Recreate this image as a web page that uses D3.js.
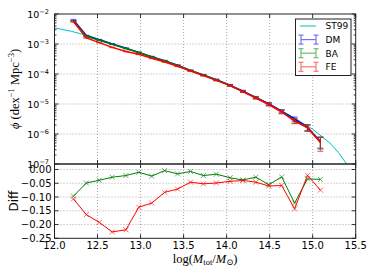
<!DOCTYPE html>
<html>
<head>
<meta charset="utf-8">
<script src="https://cdn.jsdelivr.net/npm/d3@7"></script>
<style>
  body { margin: 0; background: #fff; }
  svg { display: block; }
</style>
</head>
<body>
<div id="chart"></div>
<script>
// halo mass bins, log(M_tot/M_sun)
var massBins = [12.22, 12.37, 12.52, 12.67, 12.83, 12.98, 13.13, 13.28, 13.43, 13.58,
                13.73, 13.88, 14.04, 14.19, 14.34, 14.49, 14.64, 14.79, 14.94, 15.09];

// log10 phi
var logPhiDM = [-2.20, -2.72, -2.86, -3.00, -3.14, -3.28, -3.42, -3.56, -3.71, -3.88,
                -4.03, -4.19, -4.37, -4.57, -4.78, -4.99, -5.24, -5.50, -5.78, -6.25];
var logPhiBA = [-2.244, -2.742, -2.877, -3.012, -3.150, -3.284, -3.431, -3.562, -3.717, -3.883,
                -4.040, -4.197, -4.383, -4.587, -4.792, -5.015, -5.252, -5.557, -5.795, -6.266];
var logPhiFE = [-2.249, -2.798, -2.953, -3.112, -3.247, -3.344, -3.477, -3.598, -3.742, -3.901,
                -4.053, -4.212, -4.389, -4.588, -4.801, -5.017, -5.266, -5.567, -5.789, -6.284];

// relative errors (err/phi)
var relErrDM = [0.04, 0.02, 0.02, 0.02, 0.02, 0.02, 0.02, 0.025, 0.03, 0.03,
                0.035, 0.04, 0.05, 0.06, 0.07, 0.09, 0.12, 0.16, 0.22, 0.40];
var relErrBA = [0.04, 0.02, 0.02, 0.02, 0.02, 0.02, 0.02, 0.025, 0.03, 0.03,
                0.035, 0.04, 0.05, 0.06, 0.07, 0.09, 0.12, 0.17, 0.23, 0.42];
var relErrFE = [0.04, 0.02, 0.02, 0.02, 0.02, 0.02, 0.02, 0.025, 0.03, 0.03,
                0.035, 0.04, 0.05, 0.06, 0.08, 0.10, 0.13, 0.18, 0.25, 0.49];

// ST99 curve
var st99Mass   = [12.0, 12.2, 12.4, 12.6, 12.8, 13.0, 13.2, 13.4, 13.6, 13.8,
                  14.0, 14.2, 14.4, 14.6, 14.8, 15.0, 15.2, 15.3, 15.4];
var st99LogPhi = [-2.46, -2.58, -2.73, -2.92, -3.11, -3.31, -3.50, -3.70, -3.91, -4.12,
                  -4.34, -4.60, -4.87, -5.17, -5.49, -5.84, -6.30, -6.62, -7.02];

// bottom panel differences
var diffBA = [-0.097, -0.049, -0.039, -0.028, -0.022, -0.010, -0.024, -0.004, -0.016, -0.007,
              -0.022, -0.017, -0.030, -0.038, -0.028, -0.055, -0.027, -0.122, -0.034, -0.036];
var diffFE = [-0.107, -0.164, -0.192, -0.227, -0.219, -0.137, -0.122, -0.083, -0.071, -0.046,
              -0.052, -0.049, -0.043, -0.040, -0.046, -0.060, -0.058, -0.143, -0.021, -0.075];

var xTicks = [12.0, 12.5, 13.0, 13.5, 14.0, 14.5, 15.0, 15.5];
var topTickExps = [-2, -3, -4, -5, -6, -7];
var diffTicks = [0.00, -0.05, -0.10, -0.15, -0.20, -0.25];

var width = 374, height = 280;
var left = 54.5, right = 355.7;
var topY0 = 14, topY1 = 164, botY0 = 164, botY1 = 238.3;

var svg = d3.select("#chart").append("svg")
	.attr("width", width)
	.attr("height", height)
	.style("font-family", "'DejaVu Sans', sans-serif");

var x = d3.scaleLinear().domain([12, 15.5]).range([left, right]);
var yTop = d3.scaleLog().domain([1e-7, 1e-2]).range([topY1, topY0]);
var yBot = d3.scaleLinear().domain([-0.25, 0.02]).range([botY1, botY0]);

var defs = svg.append("defs");
defs.append("clipPath").attr("id", "clipTop")
	.append("rect").attr("x", left).attr("y", topY0).attr("width", right - left).attr("height", topY1 - topY0);
defs.append("clipPath").attr("id", "clipBot")
	.append("rect").attr("x", left).attr("y", botY0).attr("width", right - left).attr("height", botY1 - botY0);

//////////////////////// grids ////////////////////////
var grid = svg.append("g")
	.style("stroke", "#000")
	.style("stroke-width", 0.6)
	.style("stroke-dasharray", "1,2")
	.style("opacity", 0.55);

xTicks.slice(1, -1).forEach(function(t){
	grid.append("line").attr("x1", x(t)).attr("x2", x(t)).attr("y1", topY0).attr("y2", topY1);
	grid.append("line").attr("x1", x(t)).attr("x2", x(t)).attr("y1", botY0).attr("y2", botY1);
});
topTickExps.slice(1, -1).forEach(function(e){
	var yy = yTop(Math.pow(10, e));
	grid.append("line").attr("x1", left).attr("x2", right).attr("y1", yy).attr("y2", yy);
});
diffTicks.slice(0, -1).forEach(function(t){
	grid.append("line").attr("x1", left).attr("x2", right).attr("y1", yBot(t)).attr("y2", yBot(t));
});

//////////////////////// top panel ////////////////////////
var topG = svg.append("g").attr("clip-path", "url(#clipTop)");

var st99 = st99Mass.map(function(m, i){ return [m, Math.pow(10, st99LogPhi[i])]; });
topG.append("path")
	.datum(st99)
	.attr("d", d3.line().x(function(d){ return x(d[0]); }).y(function(d){ return yTop(d[1]); }))
	.style("fill", "none")
	.style("stroke", "#00bfbf")
	.style("stroke-width", 1);

var series = [
	{name: "DM", color: "#0000ff", logPhi: logPhiDM, err: relErrDM},
	{name: "BA", color: "#008000", logPhi: logPhiBA, err: relErrBA},
	{name: "FE", color: "#ff0000", logPhi: logPhiFE, err: relErrFE}
];

var lineTop = d3.line().x(function(d){ return x(d.m); }).y(function(d){ return yTop(d.phi); });

series.forEach(function(s){
	var pts = massBins.map(function(m, i){
		var phi = Math.pow(10, s.logPhi[i]);
		return {m: m, phi: phi, lo: phi * (1 - s.err[i]), hi: phi * (1 + s.err[i])};
	});
	topG.append("path")
		.datum(pts)
		.attr("d", lineTop)
		.style("fill", "none")
		.style("stroke", s.color)
		.style("stroke-width", 1.5);

	var eb = topG.append("g").style("stroke", s.color).style("stroke-width", 1.2).style("opacity", 0.6);
	pts.forEach(function(d){
		var cx = x(d.m);
		eb.append("line").attr("x1", cx).attr("x2", cx).attr("y1", yTop(d.lo)).attr("y2", yTop(d.hi));
		eb.append("line").attr("x1", cx - 3).attr("x2", cx + 3).attr("y1", yTop(d.lo)).attr("y2", yTop(d.lo));
		eb.append("line").attr("x1", cx - 3).attr("x2", cx + 3).attr("y1", yTop(d.hi)).attr("y2", yTop(d.hi));
	});
});

//////////////////////// bottom panel ////////////////////////
var botG = svg.append("g").attr("clip-path", "url(#clipBot)");
var lineBot = d3.line().x(function(d){ return x(d[0]); }).y(function(d){ return yBot(d[1]); });

[{vals: diffBA, color: "#008000"}, {vals: diffFE, color: "#ff0000"}].forEach(function(s){
	var pts = massBins.map(function(m, i){ return [m, s.vals[i]]; });
	botG.append("path")
		.datum(pts)
		.attr("d", lineBot)
		.style("fill", "none")
		.style("stroke", s.color)
		.style("stroke-width", 1);
	var mk = botG.append("g").style("stroke", s.color).style("stroke-width", 1).style("opacity", 0.6);
	pts.forEach(function(d){
		var cx = x(d[0]), cy = yBot(d[1]), r = 2.5;
		mk.append("line").attr("x1", cx - r).attr("x2", cx + r).attr("y1", cy - r).attr("y2", cy + r);
		mk.append("line").attr("x1", cx - r).attr("x2", cx + r).attr("y1", cy + r).attr("y2", cy - r);
	});
});

//////////////////////// frames and ticks ////////////////////////
var ticks = svg.append("g").style("stroke", "#000").style("stroke-width", 0.8);

function frame(y0, y1){
	svg.append("rect")
		.attr("x", left).attr("y", y0)
		.attr("width", right - left).attr("height", y1 - y0)
		.style("fill", "none").style("stroke", "#222").style("stroke-width", 1);
	xTicks.forEach(function(t){
		ticks.append("line").attr("x1", x(t)).attr("x2", x(t)).attr("y1", y0).attr("y2", y0 + 4);
		ticks.append("line").attr("x1", x(t)).attr("x2", x(t)).attr("y1", y1).attr("y2", y1 - 4);
	});
}
frame(topY0, topY1);
frame(botY0, botY1);

// log ticks on the top panel
topTickExps.forEach(function(e){
	var yy = yTop(Math.pow(10, e));
	ticks.append("line").attr("x1", left).attr("x2", left + 4).attr("y1", yy).attr("y2", yy);
	ticks.append("line").attr("x1", right).attr("x2", right - 4).attr("y1", yy).attr("y2", yy);
	if (e > -7) {
		for (var k = 2; k <= 9; k++) {
			var ym = yTop(k * Math.pow(10, e - 1));
			ticks.append("line").attr("x1", left).attr("x2", left + 2).attr("y1", ym).attr("y2", ym);
			ticks.append("line").attr("x1", right).attr("x2", right - 2).attr("y1", ym).attr("y2", ym);
		}
	}
});
diffTicks.forEach(function(t){
	ticks.append("line").attr("x1", left).attr("x2", left + 4).attr("y1", yBot(t)).attr("y2", yBot(t));
	ticks.append("line").attr("x1", right).attr("x2", right - 4).attr("y1", yBot(t)).attr("y2", yBot(t));
});

// tick labels
var labels = svg.append("g").style("font-size", "10px").style("fill", "#000");

topTickExps.forEach(function(e){
	var t = labels.append("text")
		.attr("x", 49)
		.attr("y", yTop(Math.pow(10, e)) + 3.5)
		.attr("text-anchor", "end")
		.style("font-size", "9.5px");
	t.append("tspan").text("10");
	t.append("tspan").attr("dy", -4).style("font-size", "6.5px").text(String(e).replace("-", "\u2212"));
});

diffTicks.forEach(function(t){
	labels.append("text")
		.attr("x", 51.5)
		.attr("y", yBot(t) + 3.6)
		.attr("text-anchor", "end")
		.text(d3.format(".2f")(t).replace("-", "\u2212"));
});

xTicks.forEach(function(t){
	labels.append("text")
		.attr("x", x(t))
		.attr("y", 248.5)
		.attr("text-anchor", "middle")
		.text(d3.format(".1f")(t));
});

// axis titles
var serif = "'Liberation Serif', 'DejaVu Serif', serif";

var yl = svg.append("text")
	.attr("transform", "translate(19," + ((topY0 + topY1) / 2) + ") rotate(-90)")
	.attr("text-anchor", "middle")
	.style("font-family", serif)
	.style("font-size", "12.5px");
yl.append("tspan").style("font-style", "italic").text("\u03d5");
yl.append("tspan").text(" (dex");
yl.append("tspan").attr("dy", -5).style("font-size", "8.5px").text("\u22121");
yl.append("tspan").attr("dy", 5).text(" Mpc");
yl.append("tspan").attr("dy", -5).style("font-size", "8.5px").text("\u22123");
yl.append("tspan").attr("dy", 5).text(")");

svg.append("text")
	.attr("transform", "translate(18," + ((botY0 + botY1) / 2) + ") rotate(-90)")
	.attr("text-anchor", "middle")
	.style("font-size", "12px")
	.text("Diff");

var xl = svg.append("text")
	.attr("x", (left + right) / 2)
	.attr("y", 262.5)
	.attr("text-anchor", "middle")
	.style("font-family", serif)
	.style("font-size", "12.5px");
xl.append("tspan").text("log(");
xl.append("tspan").style("font-style", "italic").text("M");
xl.append("tspan").attr("dy", 2.5).style("font-size", "8.5px").text("tot");
xl.append("tspan").attr("dy", -2.5).text("/");
xl.append("tspan").style("font-style", "italic").text("M");
xl.append("tspan").attr("dy", 2.5).style("font-size", "8.5px").text("\u2299");
xl.append("tspan").attr("dy", -2.5).text(")");

//////////////////////// legend ////////////////////////
var leg = svg.append("g");
leg.append("rect")
	.attr("x", 295.5).attr("y", 19)
	.attr("width", 55.5).attr("height", 56.5)
	.style("fill", "#fff").style("stroke", "#222").style("stroke-width", 1);

var legItems = [{name: "ST99", color: "#00bfbf", eb: false}].concat(
	series.map(function(s){ return {name: s.name, color: s.color, eb: true}; }));

legItems.forEach(function(d, i){
	var ly = 26 + i * 13.6;
	var g = leg.append("g");
	if (d.eb) {
		g.style("opacity", 0.55);
		g.append("line").attr("x1", 301).attr("x2", 316).attr("y1", ly).attr("y2", ly)
			.style("stroke", d.color).style("stroke-width", 1.2);
		[301, 316].forEach(function(cx){
			g.append("line").attr("x1", cx).attr("x2", cx).attr("y1", ly - 4.5).attr("y2", ly + 4.5)
				.style("stroke", d.color).style("stroke-width", 1.2);
			g.append("line").attr("x1", cx - 2.5).attr("x2", cx + 2.5).attr("y1", ly - 4.5).attr("y2", ly - 4.5)
				.style("stroke", d.color).style("stroke-width", 1.2);
			g.append("line").attr("x1", cx - 2.5).attr("x2", cx + 2.5).attr("y1", ly + 4.5).attr("y2", ly + 4.5)
				.style("stroke", d.color).style("stroke-width", 1.2);
		});
	} else {
		g.append("line").attr("x1", 300).attr("x2", 316).attr("y1", ly).attr("y2", ly)
			.style("stroke", d.color).style("stroke-width", 1);
	}
	leg.append("text")
		.attr("x", 325.5)
		.attr("y", ly + 3.3)
		.style("font-size", "9px")
		.text(d.name);
});
</script>
</body>
</html>
